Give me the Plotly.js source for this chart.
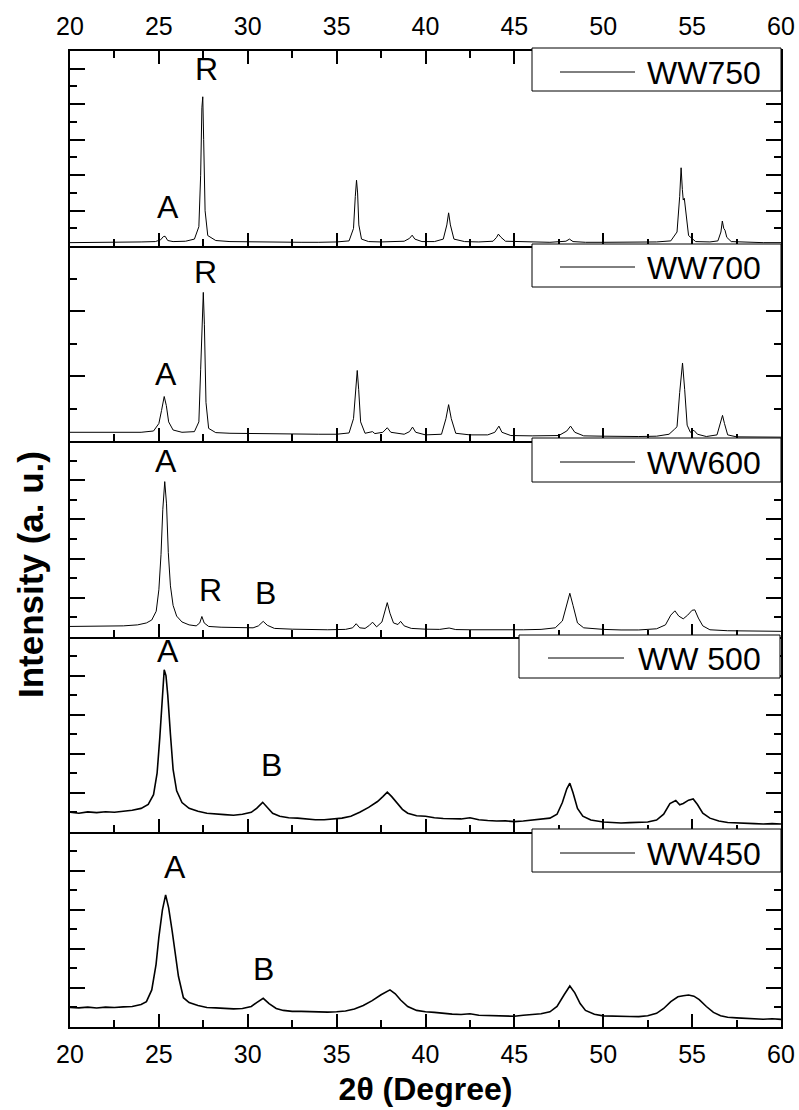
<!DOCTYPE html>
<html>
<head>
<meta charset="utf-8">
<script src="https://cdn.plot.ly/plotly-3.0.1.min.js"></script>
<style>html,body{margin:0;padding:0;background:#fff;}#chart{width:799px;height:1110px;}</style>
</head>
<body>
<div id="chart"></div>
<script>
// ---- Data (2θ in degrees, intensity in arbitrary units of each panel) ----
const sampleNames = ['WW750', 'WW700', 'WW600', 'WW 500', 'WW450'];

const ww750 = [[20,0.10],[21,0.10],[22,0.11],[23,0.11],[24,0.12],[24.8,0.13],[25.1,0.18],[25.25,0.27],[25.35,0.28],[25.5,0.16],[25.8,0.13],[26.5,0.14],[27.0,0.2],[27.25,0.55],[27.35,2.0],[27.42,3.9],[27.47,4.21],[27.52,3.0],[27.6,1.0],[27.75,0.3],[28.2,0.16],[29,0.13],[30,0.12],[31,0.12],[32,0.11],[33,0.11],[34,0.11],[35,0.12],[35.7,0.15],[35.95,0.5],[36.05,1.4],[36.12,1.86],[36.18,1.5],[36.25,0.6],[36.4,0.2],[36.8,0.13],[37.5,0.12],[38.8,0.14],[39.1,0.22],[39.25,0.31],[39.4,0.2],[39.8,0.13],[40.5,0.13],[41.0,0.2],[41.2,0.6],[41.3,0.94],[41.4,0.6],[41.6,0.2],[42.2,0.13],[43,0.12],[43.8,0.14],[44.0,0.25],[44.1,0.34],[44.25,0.25],[44.5,0.14],[45.5,0.12],[47.0,0.11],[47.9,0.14],[48.1,0.2],[48.3,0.13],[49,0.11],[50,0.11],[51,0.11],[52,0.11],[53,0.12],[53.8,0.15],[54.15,0.4],[54.3,1.4],[54.38,2.21],[54.45,1.6],[54.5,1.3],[54.56,1.35],[54.65,0.9],[54.8,0.3],[55.2,0.13],[56,0.12],[56.45,0.15],[56.62,0.4],[56.7,0.71],[56.78,0.5],[56.85,0.45],[56.95,0.25],[57.2,0.13],[58,0.11],[59,0.10],[60,0.10]];

const ww700 = [[20,0.28],[21,0.28],[22,0.27],[23,0.27],[24,0.28],[24.7,0.32],[25.0,0.55],[25.15,0.95],[25.3,1.38],[25.42,1.1],[25.55,0.6],[25.8,0.35],[26.3,0.28],[27.0,0.3],[27.25,0.6],[27.35,2.2],[27.45,4.3],[27.5,4.58],[27.56,3.6],[27.65,1.2],[27.8,0.4],[28.2,0.27],[29,0.25],[30,0.24],[31,0.23],[32,0.23],[33,0.22],[34,0.22],[35,0.22],[35.7,0.26],[35.95,0.7],[36.08,1.7],[36.16,2.18],[36.24,1.6],[36.35,0.6],[36.6,0.25],[36.9,0.27],[37.02,0.3],[37.15,0.24],[37.6,0.28],[37.85,0.42],[38.05,0.28],[38.8,0.22],[39.1,0.3],[39.27,0.44],[39.45,0.28],[40.0,0.2],[40.9,0.22],[41.15,0.7],[41.3,1.13],[41.45,0.7],[41.7,0.25],[42.5,0.2],[43.5,0.2],[43.9,0.28],[44.13,0.47],[44.3,0.28],[44.8,0.18],[46,0.17],[47.5,0.18],[47.95,0.32],[48.16,0.47],[48.4,0.28],[48.9,0.17],[50,0.16],[51,0.15],[52,0.15],[53,0.16],[53.7,0.22],[54.0,0.37],[54.15,0.45],[54.3,1.5],[54.46,2.41],[54.58,1.6],[54.72,0.5],[54.9,0.28],[55.1,0.34],[55.3,0.22],[55.8,0.15],[56.4,0.2],[56.6,0.6],[56.71,0.8],[56.82,0.55],[57.0,0.2],[57.5,0.14],[58.5,0.13],[60,0.13]];

const ww600 = [[20,0.52],[21,0.52],[22,0.53],[23,0.55],[23.8,0.6],[24.3,0.7],[24.6,0.85],[24.85,1.3],[25.0,2.4],[25.12,4.2],[25.22,6.5],[25.33,7.94],[25.43,6.8],[25.53,4.3],[25.65,2.6],[25.8,1.6],[26.0,1.05],[26.3,0.75],[26.7,0.6],[27.1,0.55],[27.3,0.7],[27.42,1.03],[27.55,0.7],[27.8,0.52],[28.5,0.48],[29.5,0.45],[30.3,0.45],[30.6,0.55],[30.87,0.78],[31.1,0.58],[31.5,0.42],[32.5,0.38],[33.5,0.36],[34.5,0.35],[35.5,0.37],[35.9,0.45],[36.1,0.66],[36.3,0.45],[36.6,0.42],[36.85,0.58],[37.02,0.74],[37.25,0.5],[37.55,0.75],[37.7,1.3],[37.85,1.74],[38.0,1.2],[38.2,0.7],[38.45,0.62],[38.6,0.78],[38.8,0.55],[39.2,0.42],[40,0.38],[40.8,0.37],[41.33,0.44],[41.7,0.36],[42.5,0.35],[43.5,0.34],[44.5,0.34],[45.5,0.35],[46.5,0.37],[47.3,0.45],[47.7,0.8],[47.95,1.7],[48.12,2.22],[48.3,1.6],[48.55,0.7],[48.9,0.45],[49.4,0.4],[50,0.37],[51,0.34],[52,0.34],[53,0.4],[53.5,0.6],[53.8,1.1],[54.03,1.32],[54.25,1.05],[54.5,0.91],[54.75,1.1],[55.0,1.35],[55.15,1.37],[55.35,0.95],[55.6,0.55],[56,0.35],[57,0.3],[58,0.28],[59,0.27],[60,0.27]];

const ww500 = [[20,1.0],[20.5,0.95],[21,1.02],[21.5,0.98],[22,1.03],[22.5,1.0],[23,1.05],[23.5,1.1],[24,1.2],[24.4,1.4],[24.7,1.9],[24.9,3.0],[25.05,4.8],[25.2,7.2],[25.3,8.3],[25.4,8.0],[25.5,7.0],[25.65,5.0],[25.8,3.2],[26.0,2.1],[26.3,1.5],[26.7,1.2],[27.2,1.05],[27.7,0.95],[28.2,0.9],[28.7,0.88],[29.2,0.85],[29.7,0.9],[30.2,1.0],[30.5,1.2],[30.84,1.51],[31.1,1.25],[31.4,0.95],[31.8,0.8],[32.3,0.72],[32.8,0.7],[33.3,0.65],[33.8,0.62],[34.3,0.62],[34.8,0.65],[35.3,0.7],[35.8,0.8],[36.3,1.0],[36.8,1.25],[37.3,1.55],[37.6,1.8],[37.85,2.03],[38.1,1.8],[38.4,1.45],[38.7,1.15],[39.0,0.95],[39.5,0.82],[40,0.8],[40.5,0.72],[41,0.68],[41.5,0.66],[42,0.66],[42.5,0.72],[43,0.62],[43.5,0.58],[44,0.55],[44.5,0.56],[45,0.52],[45.5,0.55],[46,0.6],[46.5,0.62],[47,0.7],[47.4,0.9],[47.7,1.5],[47.95,2.2],[48.12,2.49],[48.3,2.0],[48.55,1.2],[48.85,0.8],[49.3,0.6],[50,0.5],[50.5,0.48],[51,0.45],[51.5,0.47],[52,0.48],[52.5,0.5],[53,0.6],[53.4,0.9],[53.75,1.45],[54.08,1.6],[54.3,1.38],[54.5,1.45],[54.8,1.62],[55.06,1.68],[55.3,1.4],[55.6,0.95],[56.0,0.7],[56.5,0.55],[57,0.48],[57.5,0.45],[58,0.43],[58.5,0.42],[59,0.4],[59.5,0.42],[60,0.4]];

const ww450 = [[20,1.0],[20.5,0.98],[21,1.02],[21.5,0.97],[22,1.02],[22.5,1.0],[23,1.03],[23.5,1.05],[24,1.15],[24.3,1.3],[24.6,1.9],[24.84,3.2],[25.0,4.6],[25.2,6.0],[25.38,6.77],[25.55,6.1],[25.75,4.9],[25.9,3.9],[26.1,2.6],[26.38,1.5],[26.7,1.25],[27.2,1.1],[27.7,1.0],[28.2,0.98],[28.7,0.95],[29.2,0.93],[29.7,0.95],[30.2,1.05],[30.5,1.25],[30.87,1.47],[31.2,1.2],[31.6,0.95],[32,0.85],[32.5,0.8],[33,0.8],[33.5,0.78],[34,0.76],[34.5,0.76],[35,0.78],[35.5,0.82],[36,0.92],[36.5,1.1],[37,1.35],[37.5,1.65],[38.0,1.9],[38.3,1.7],[38.6,1.38],[39,1.05],[39.5,0.85],[40,0.78],[40.5,0.75],[41,0.7],[41.5,0.66],[42,0.64],[42.5,0.68],[43,0.6],[43.5,0.58],[44,0.56],[44.5,0.56],[45,0.55],[45.5,0.6],[46,0.63],[46.5,0.68],[47,0.78],[47.4,1.05],[47.8,1.65],[48.12,2.1],[48.4,1.75],[48.7,1.2],[49,0.85],[49.5,0.65],[50,0.57],[50.5,0.55],[51,0.53],[51.5,0.54],[52,0.53],[52.5,0.58],[53,0.7],[53.4,0.95],[53.8,1.3],[54.2,1.55],[54.5,1.6],[54.8,1.64],[55.1,1.58],[55.4,1.4],[55.8,1.05],[56.2,0.75],[56.6,0.58],[57,0.5],[57.5,0.47],[58,0.44],[58.5,0.42],[59,0.4],[59.5,0.42],[60,0.39]];

// phase labels: [panel index, 2θ, intensity, text]
const peakLabels = [
  [0, 25.53, 1.11, 'A'], [0, 27.70, 4.98, 'R'],
  [1, 25.38, 2.08, 'A'], [1, 27.65, 5.22, 'R'],
  [2, 25.38, 9.02, 'A'], [2, 27.88, 2.39, 'R'], [2, 31.00, 2.22, 'B'],
  [3, 25.53, 9.24, 'A'], [3, 31.35, 3.40, 'B'],
  [4, 25.91, 8.22, 'A'], [4, 30.87, 2.97, 'B']
];

const xTicks = [20, 25, 30, 35, 40, 45, 50, 55, 60];
const xTitle = '2θ (Degree)';
const yTitle = 'Intensity (a. u.)';

// ---- Styling / layout ----
const series = [ww750, ww700, ww600, ww500, ww450];
const yRanges = [[0, 5.5], [0, 6], [0, 10], [0, 10], [0, 10]];
const yMajor = [1, 2, 2, 2, 2];
const yMinor = [0.5, 1, 1, 1, 1];
const lineW = [1, 1, 1, 1.6, 1.6];
const FONT = 'Liberation Sans, Arial, Helvetica, sans-serif';

const W = 799, H = 1110;
const M = {l: 70, r: 18, t: 51, b: 83};
const PW = W - M.l - M.r, PH = H - M.t - M.b;
const px2x = px => (px - M.l) / PW;
const px2y = py => (H - M.b - py) / PH;

const traces = series.map((s, i) => ({
  type: 'scatter', mode: 'lines', name: sampleNames[i],
  x: s.map(p => p[0]), y: s.map(p => p[1]),
  xaxis: i === 0 ? 'x' : 'x' + (i + 1),
  yaxis: i === 0 ? 'y' : 'y' + (i + 1),
  line: {color: '#000', width: lineW[i], shape: 'linear'},
  showlegend: false, hoverinfo: 'x+y'
}));

const layout = {
  width: W, height: H,
  margin: M,
  paper_bgcolor: '#fff', plot_bgcolor: '#fff',
  showlegend: false,
  font: {family: FONT, color: '#000'},
  annotations: [], shapes: []
};

for (let i = 0; i < 5; i++) {
  const xa = i === 0 ? 'xaxis' : 'xaxis' + (i + 1);
  const ya = i === 0 ? 'yaxis' : 'yaxis' + (i + 1);
  const d0 = (4 - i) * 0.2, d1 = (5 - i) * 0.2;
  layout[xa] = {
    anchor: i === 0 ? 'y' : 'y' + (i + 1),
    domain: [0, 1], range: [20, 60],
    tickmode: 'array', tickvals: xTicks, ticktext: xTicks.map(String),
    ticks: 'inside', ticklen: 13, tickwidth: 2, tickcolor: '#000',
    minor: {dtick: 2.5, tick0: 20, ticks: 'inside', ticklen: 7, tickwidth: 2, tickcolor: '#000', showgrid: false},
    showline: true, linewidth: 2, linecolor: '#000',
    showgrid: false, zeroline: false,
    side: i === 0 ? 'top' : 'bottom',
    mirror: i === 0 ? 'ticks' : false,
    showticklabels: (i === 0 || i === 4),
    tickfont: {family: FONT, size: 25, color: '#000'},
    ticklabelstandoff: 4
  };
  if (i > 0) layout[xa].matches = 'x';
  if (i === 4) {
    layout[xa].title = {text: xTitle, font: {family: FONT, size: 32, color: '#000', weight: 'bold'}, standoff: 11};
  }
  layout[ya] = {
    anchor: i === 0 ? 'x' : 'x' + (i + 1),
    domain: [d0, d1], range: yRanges[i],
    dtick: yMajor[i], tick0: 0,
    ticks: 'inside', ticklen: 15, tickwidth: 2, tickcolor: '#000',
    minor: {dtick: yMinor[i], tick0: 0, ticks: 'inside', ticklen: 7, tickwidth: 2, tickcolor: '#000', showgrid: false},
    showline: true, linewidth: 2, linecolor: '#000', mirror: 'ticks',
    showgrid: false, zeroline: false, showticklabels: false
  };
}

// phase labels
peakLabels.forEach(([p, x, y, t]) => {
  layout.annotations.push({
    xref: p === 0 ? 'x' : 'x' + (p + 1), yref: p === 0 ? 'y' : 'y' + (p + 1),
    x: x, y: y, text: t, showarrow: false,
    xanchor: 'center', yanchor: 'middle',
    font: {family: FONT, size: 32, color: '#000'}
  });
});

// legend boxes (drawn as framed keys, one per panel)
const legendBoxes = [
  {x0: 532, x1: 781, y0: 48, y1: 91, l0: 560, l1: 635, ly: 72, tx: 763},
  {x0: 532, x1: 781, y0: 244, y1: 287, l0: 560, l1: 635, ly: 267, tx: 763},
  {x0: 532, x1: 781, y0: 438, y1: 482, l0: 560, l1: 635, ly: 462, tx: 763},
  {x0: 519, x1: 780, y0: 635, y1: 678, l0: 548, l1: 624, ly: 658, tx: 763},
  {x0: 532, x1: 781, y0: 829, y1: 872, l0: 560, l1: 635, ly: 853, tx: 763}
];
legendBoxes.forEach((b, i) => {
  layout.shapes.push({type: 'rect', xref: 'paper', yref: 'paper', layer: 'above',
    x0: px2x(b.x0), x1: px2x(b.x1), y0: px2y(b.y1), y1: px2y(b.y0),
    line: {color: '#000', width: 1}, fillcolor: '#fff'});
  layout.shapes.push({type: 'line', xref: 'paper', yref: 'paper', layer: 'above',
    x0: px2x(b.l0), x1: px2x(b.l1), y0: px2y(b.ly), y1: px2y(b.ly),
    line: {color: '#000', width: 1}});
  layout.annotations.push({xref: 'paper', yref: 'paper', x: px2x(b.tx), y: px2y(b.ly + 1),
    text: sampleNames[i], showarrow: false, xanchor: 'right', yanchor: 'middle',
    font: {family: FONT, size: 32, color: '#000'}});
});

// y title
layout.annotations.push({xref: 'paper', yref: 'paper', x: px2x(30), y: px2y(575),
  text: yTitle, textangle: -90, showarrow: false, xanchor: 'center', yanchor: 'middle',
  font: {family: FONT, size: 35, color: '#000', weight: 'bold'}});

Plotly.newPlot('chart', traces, layout, {staticPlot: true, displayModeBar: false});
</script>
</body>
</html>
